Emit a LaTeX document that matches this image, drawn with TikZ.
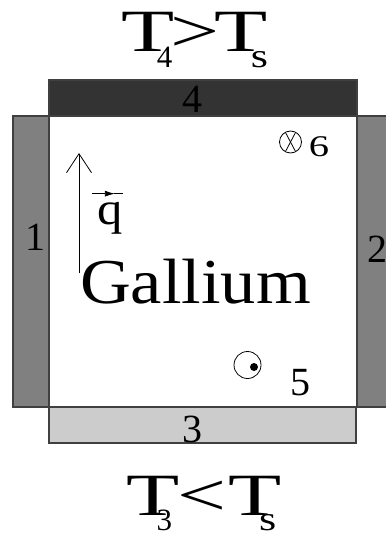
\documentclass[tikz,border=0pt]{standalone}
\usepackage{fontspec}
\setmainfont{Liberation Serif}
\usepackage{graphicx}
\usetikzlibrary{arrows.meta, calc}

\newcommand{\wide}[2]{\scalebox{#1}[1]{#2}}

\begin{document}
\begin{tikzpicture}[x=1pt, y=-1pt,
  wall/.style={draw=black!75, line width=1.2pt},
  num/.style={inner sep=0pt, anchor=base, font=\fontsize{40}{48}\selectfont},
  big/.style={inner sep=0pt, anchor=base west, font=\fontsize{60}{72}\selectfont},
  sub/.style={font=\fontsize{31}{36}\selectfont},
  thin/.style={line width=0.8pt}
]
  \useasboundingbox (0,0) rectangle (385,537);

  % the four walls round the gallium
  \filldraw[wall, fill=black!80] (49,80) rectangle (357,116);
  \filldraw[wall, fill=black!50] (13,116) rectangle (49,407);
  \filldraw[wall, fill=black!50] (357,116) rectangle (395,407);
  \filldraw[wall, fill=black!20] (49,407) rectangle (356,443);

  \node[num] (n4) at (192,113) {4};
  \node[num] (n1) at (35,250) {1};
  \node[num] (n2) at (377,262) {2};
  \node[num] (n3) at (192,442) {3};
  \node[num] (n5) at (300.5,395) {5};
  \node[num, font=\fontsize{30}{36}\selectfont] (n6) at (319,157) {\wide{1.35}{6}};

  % temperatures
  \node[big] (ttop) at (121.5,52) {\wide{1.45}{T}\kern-18pt\raisebox{-16pt}{\fontsize{31}{36}\selectfont 4}\kern-1.5pt\wide{1.45}{>}\kern-5.5pt\wide{1.45}{T}\kern-16.7pt\raisebox{-16pt}{\fontsize{34}{40}\selectfont\wide{1.3}{s}}};
  \node[big] (tbot) at (126.5,515) {\wide{1.45}{T}\kern-23.2pt\raisebox{-15pt}{\fontsize{31}{36}\selectfont 3}\kern5.6pt\wide{1.45}{<}\kern1.9pt\wide{1.45}{T}\kern-22.7pt\raisebox{-15pt}{\fontsize{34}{40}\selectfont\wide{1.3}{s}}};

  \node[inner sep=0pt, anchor=base, font=\fontsize{64}{76}\selectfont] (ga) at (195.5,303) {\wide{1.1}{Gallium}};

  % heat flux
  \node[inner sep=0pt, anchor=base, font=\fontsize{46}{55}\selectfont] (q) at (110,224) {\wide{1.1}{q}};
  \draw[thin, -{Latex[length=10pt,width=6pt]}] ([xshift=-5pt,yshift=8pt]q.north west) -- ([xshift=-8pt,yshift=8pt]q.north east);
  \draw[thin] ([xshift=-9pt,yshift=8pt]q.north east) -- ([yshift=8pt]q.north east);
  \coordinate (qtail) at (79,273);
  \coordinate (qhead) at (79,153);
  \draw[thin, -{Straight Barb[length=19pt,width=25pt]}] (qtail) -- (qhead);

  % field directions
  \node[circle, draw, thin, minimum size=22pt, inner sep=0pt] (into) at (290.5,142) {};
  \draw[thin] ($(into.center)+(-5,-9.5)$) -- ($(into.center)+(5,9.5)$);
  \draw[thin] ($(into.center)+(5,-9.5)$) -- ($(into.center)+(-5,9.5)$);
  \node[circle, draw, thin, minimum size=27pt, inner sep=0pt] (outof) at (247.5,365) {};
  \fill ($(outof.center)+(6.5,2)$) circle (4pt);
\end{tikzpicture}
\end{document}
